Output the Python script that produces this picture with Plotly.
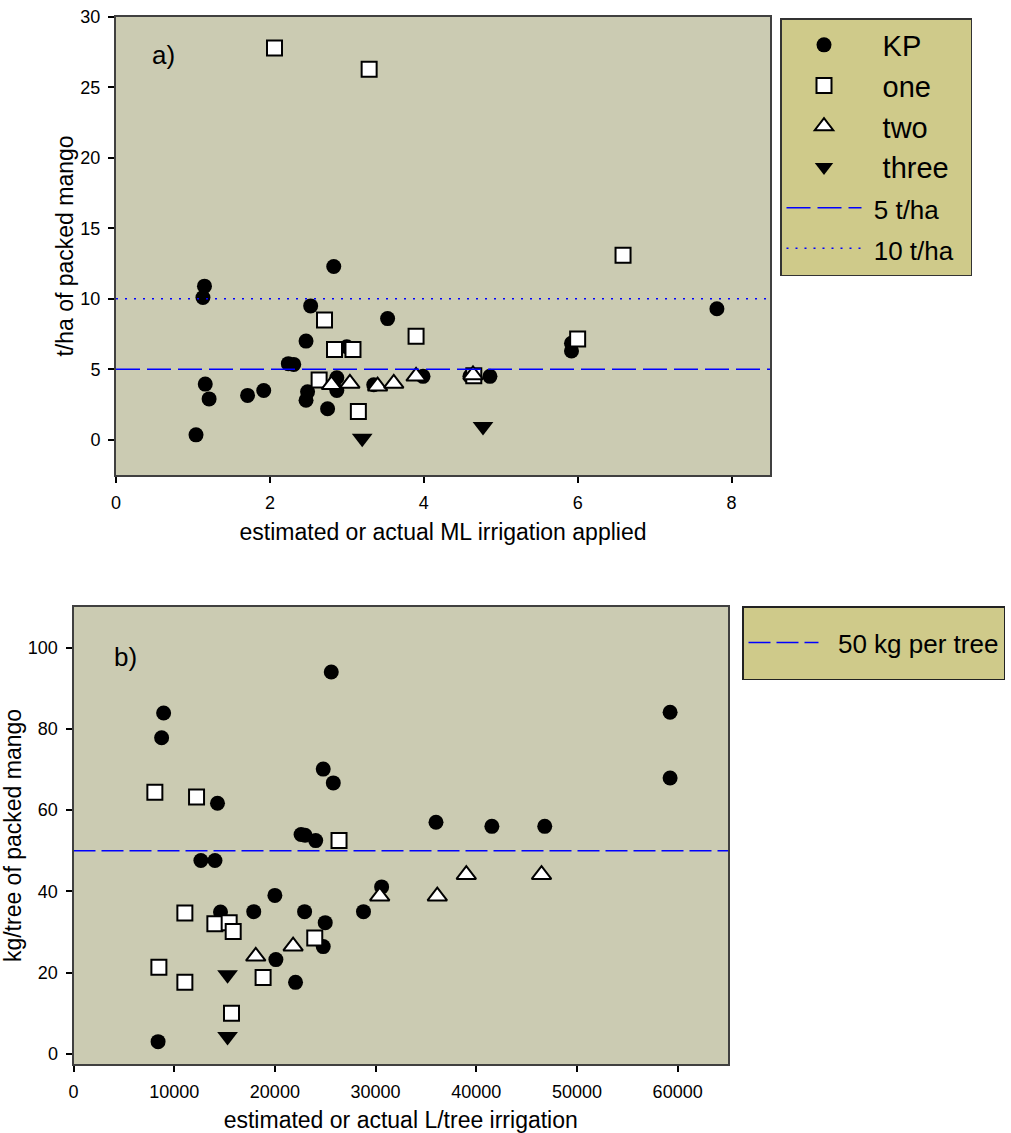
import plotly.graph_objects as go

# ---------------- Panel a data (t/ha vs ML irrigation) ----------------
a_kp_x = [1.15, 1.13, 2.83, 2.53, 3.53, 2.47, 3.00, 2.24, 2.31, 1.16, 1.21, 1.71, 1.92,
          2.49, 2.47, 2.75, 2.87, 2.87, 1.04, 3.35, 3.99, 4.60, 4.86, 5.92, 5.92, 7.81]
a_kp_y = [10.9, 10.1, 12.3, 9.5, 8.6, 7.0, 6.6, 5.4, 5.35, 3.95, 2.9, 3.15, 3.5,
          3.4, 2.8, 2.2, 4.4, 3.5, 0.35, 3.9, 4.5, 4.5, 4.5, 6.3, 6.85, 9.3]
a_one_x = [2.06, 3.29, 2.71, 3.90, 2.84, 3.08, 2.64, 3.15, 6.59, 6.00, 4.65]
a_one_y = [27.8, 26.3, 8.5, 7.35, 6.4, 6.4, 4.25, 2.0, 13.1, 7.15, 4.55]
a_two_x = [2.80, 3.04, 3.40, 3.61, 3.90, 4.64]
a_two_y = [3.9, 4.0, 3.8, 4.0, 4.5, 4.6]
a_three_x = [3.20, 4.77]
a_three_y = [0.1, 0.95]
a_lines = [5, 10]
a_line_names = ["5 t/ha", "10 t/ha"]
a_xrange = [0, 8.5]
a_yrange = [-2.5, 30]

# ---------------- Panel b data (kg/tree vs L/tree irrigation) ----------------
b_kp_x = [25600, 8950, 8750, 24800, 25800, 14300, 22600, 23000, 24050, 12650, 14050,
          20000, 30600, 14600, 17900, 22950, 28800, 25000, 24800, 20100, 22050, 8400,
          36000, 41550, 46800, 59250, 59250]
b_kp_y = [94.0, 83.9, 77.8, 70.1, 66.7, 61.7, 54.0, 53.8, 52.5, 47.6, 47.6,
          39.0, 41.1, 34.9, 35.0, 35.0, 35.0, 32.3, 26.4, 23.2, 17.6, 3.0,
          57.0, 56.0, 56.0, 84.1, 67.9]
b_one_x = [8080, 12220, 26370, 11060, 14040, 15460, 15860, 23960, 8480, 11060, 18830, 15690]
b_one_y = [64.4, 63.2, 52.5, 34.7, 32.0, 32.3, 30.1, 28.5, 21.3, 17.6, 18.8, 10.0]
b_two_x = [18100, 21810, 30410, 36130, 39010, 46480]
b_two_y = [24.0, 26.5, 38.8, 38.8, 44.1, 44.1]
b_three_x = [15300, 15300]
b_three_y = [19.5, 4.3]
b_line = 50
b_line_name = "50 kg per tree"
b_xrange = [0, 65000]
b_yrange = [-2.5, 110]

FONT = "Arial, Liberation Sans, sans-serif"
PLOT_BG = "#CBCBB2"
LEG_BG = "#CFCA8A"
NB = "\u00a0"

W, H = 1011, 1133

def style(symbol, fill, size):
    return dict(symbol=symbol, color=fill, size=size,
                line=dict(color="black", width=2 if fill == "white" else 0))

fig = go.Figure()

series_a = [
    ("KP", a_kp_x, a_kp_y, "circle", "black", 15),
    ("one", a_one_x, a_one_y, "square", "white", 15),
    ("two", a_two_x, a_two_y, "triangle-up", "white", 17),
    ("three", a_three_x, a_three_y, "triangle-down", "black", 18),
]
for name, xs, ys, sym, fill, sz in series_a:
    fig.add_trace(go.Scatter(x=xs, y=ys, mode="markers", name=NB * 2 + name + NB * 2,
                             marker=style(sym, fill, sz), xaxis="x", yaxis="y",
                             legend="legend", cliponaxis=False))

dashes_a = ["24px,7px", "2px,7px"]
for val, nm, dsh in zip(a_lines, a_line_names, dashes_a):
    fig.add_trace(go.Scatter(x=a_xrange, y=[val, val], mode="lines",
                             name="<span style='font-size:26px'>" + NB + nm + "</span>",
                             line=dict(color="#0000FF", width=1.5, dash=dsh),
                             xaxis="x", yaxis="y", legend="legend"))

series_b = [
    ("KP", b_kp_x, b_kp_y, "circle", "black", 15),
    ("one", b_one_x, b_one_y, "square", "white", 15),
    ("two", b_two_x, b_two_y, "triangle-up", "white", 17),
    ("three", b_three_x, b_three_y, "triangle-down", "black", 18),
]
for name, xs, ys, sym, fill, sz in series_b:
    fig.add_trace(go.Scatter(x=xs, y=ys, mode="markers", name=name, showlegend=False,
                             marker=style(sym, fill, sz), xaxis="x2", yaxis="y2"))

fig.add_trace(go.Scatter(x=b_xrange, y=[b_line, b_line], mode="lines",
                         name="<span style='font-size:26px;baseline-shift:7px'>"
                              + NB * 2 + b_line_name + "</span>",
                         line=dict(color="#0000FF", width=1.5, dash="22px,6px"),
                         xaxis="x2", yaxis="y2", legend="legend2"))

axis_common = dict(showline=True, mirror=True, linecolor="#404040", linewidth=2,
                   ticks="outside", ticklen=6, tickwidth=1.5, tickcolor="black",
                   showgrid=False, zeroline=False, automargin=False,
                   tickfont=dict(family=FONT, size=18, color="black"))
TITLE_FONT = dict(family=FONT, size=23, color="black")

fig.update_layout(
    width=W, height=H,
    margin=dict(l=0, r=0, t=0, b=0, autoexpand=False),
    paper_bgcolor="white",
    plot_bgcolor=PLOT_BG,
    font=dict(family=FONT, color="black"),
    xaxis=dict(domain=[116 / W, 770 / W], range=a_xrange, anchor="y",
               tickvals=[0, 2, 4, 6, 8], ticklabelstandoff=4,
               title=dict(text="estimated or actual ML irrigation applied",
                          font=TITLE_FONT, standoff=12),
               **axis_common),
    yaxis=dict(domain=[1 - 475 / H, 1 - 17 / H], range=a_yrange, anchor="x",
               tickvals=[0, 5, 10, 15, 20, 25, 30], ticklabelstandoff=4,
               title=dict(text="t/ha of packed mango", font=TITLE_FONT, standoff=0),
               **axis_common),
    xaxis2=dict(domain=[73.5 / W, 728 / W], range=b_xrange, anchor="y2",
                tickvals=[0, 10000, 20000, 30000, 40000, 50000, 60000], tickformat="d",
                ticklabelstandoff=4,
                title=dict(text="estimated or actual L/tree irrigation",
                           font=TITLE_FONT, standoff=12),
                **axis_common),
    yaxis2=dict(domain=[1 - 1064 / H, 1 - 607 / H], range=b_yrange, anchor="x2",
                tickvals=[0, 20, 40, 60, 80, 100], ticklabelstandoff=4,
                title=dict(text="kg/tree of packed mango", font=TITLE_FONT, standoff=0),
                **axis_common),
    legend=dict(x=780 / W, y=1 - 18 / H, xanchor="left", yanchor="top",
                bgcolor=LEG_BG, bordercolor="#333333", borderwidth=1.5,
                font=dict(family=FONT, size=29, color="black"),
                itemsizing="trace", valign="middle", itemwidth=75),
    legend2=dict(x=742 / W, y=1 - 606 / H, xanchor="left", yanchor="top",
                 bgcolor=LEG_BG, bordercolor="#222222", borderwidth=1.5,
                 font=dict(family=FONT, size=44, color="black"), valign="middle",
                 itemwidth=70),
    annotations=[
        dict(text="a)", x=163 / W, y=1 - 55 / H, xref="paper", yref="paper",
             xanchor="center", yanchor="middle",
             showarrow=False, font=dict(family=FONT, size=26)),
        dict(text="b)", x=125 / W, y=1 - 657 / H, xref="paper", yref="paper",
             xanchor="center", yanchor="middle",
             showarrow=False, font=dict(family=FONT, size=26)),
    ],
    showlegend=True,
)

fig.write_html("out.html")
